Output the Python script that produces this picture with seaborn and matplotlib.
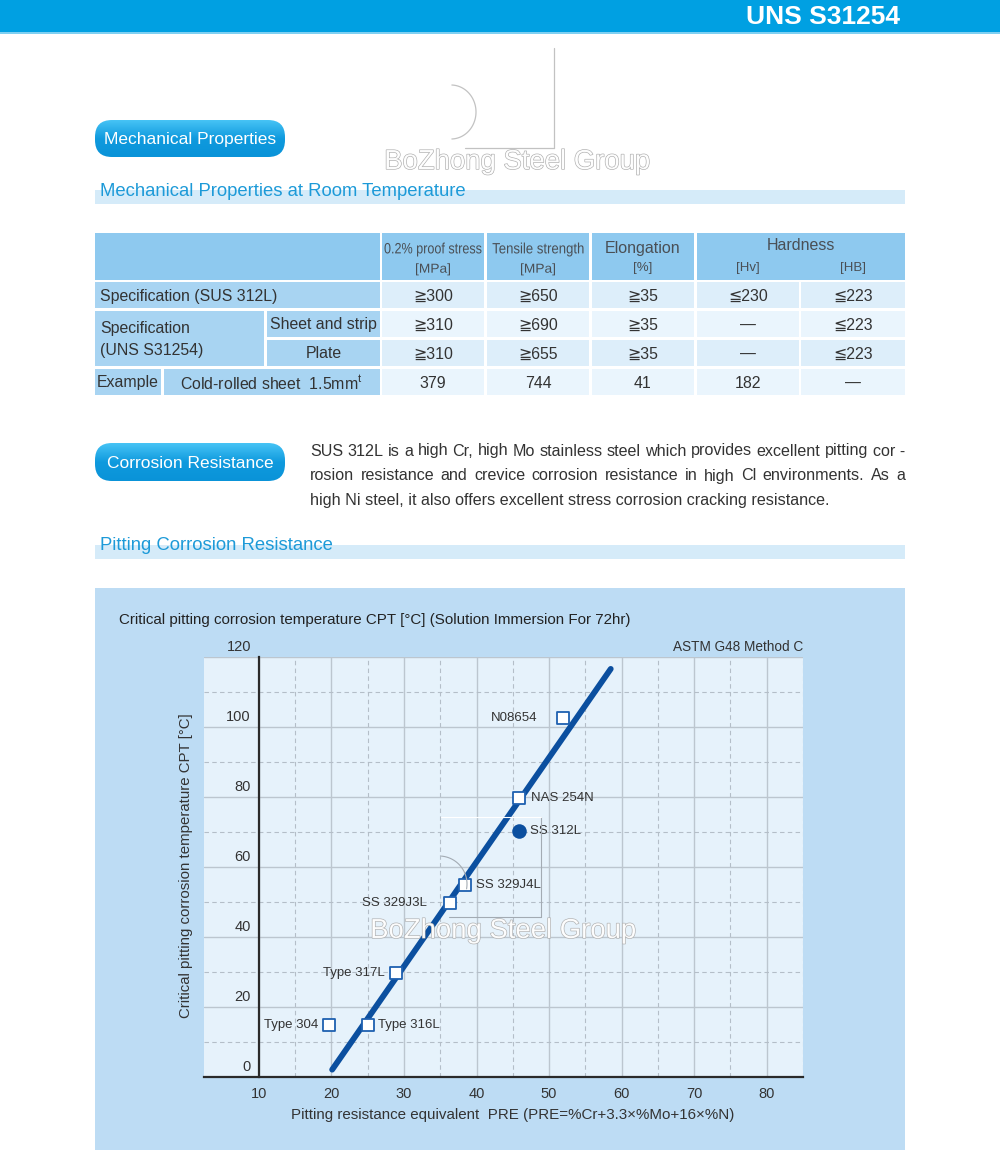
import numpy as np
import matplotlib
matplotlib.use('Agg')
import matplotlib.pyplot as plt
import matplotlib.patches as mpatches
import matplotlib.patheffects as pe
from matplotlib import font_manager as fm
from matplotlib.textpath import TextPath
from matplotlib.transforms import Affine2D
import seaborn as sns

# ---------------- data ----------------
page_title = 'UNS S31254'
table_heads = ['0.2% proof stress', 'Tensile strength', 'Elongation', 'Hardness']
table_units = ['[MPa]', '[MPa]', '[%]', '[Hv]', '[HB]']
row_sus312l = ['≧300', '≧650', '≧35', '≦230', '≦223']
row_sheet = ['≧310', '≧690', '≧35', '—', '≦223']
row_plate = ['≧310', '≧655', '≧35', '—', '≦223']
row_example = ['379', '744', '41', '182', '—']

para_lines = [
    'SUS 312L is a high Cr, high Mo stainless steel which provides excellent pitting cor -',
    'rosion resistance and crevice corrosion resistance in high Cl environments. As a',
    'high Ni steel, it also offers excellent stress corrosion cracking resistance.',
]

pre_line = [20.1, 58.5]
cpt_line = [2.1, 116.6]
steel_names = ['Type 304', 'Type 316L', 'Type 317L', 'SS 329J3L', 'SS 329J4L', 'NAS 254N', 'N08654']
steel_pre = [19.6, 25.0, 28.9, 36.4, 38.4, 45.8, 51.9]
steel_cpt = [14.8, 14.8, 29.8, 49.8, 54.8, 79.8, 102.7]
sus_name = 'SS 312L'
sus_pre = [45.8]
sus_cpt = [70.3]

x_ticks = [10, 20, 30, 40, 50, 60, 70, 80]
y_ticks = [0, 20, 40, 60, 80, 100, 120]

# ---------------- style ----------------
sns.set_style('white')
names = {f.name for f in fm.fontManager.ttflist}
base = 'Liberation Sans' if 'Liberation Sans' in names else 'DejaVu Sans'
plt.rcParams['font.family'] = [base, 'DejaVu Sans']
plt.rcParams['mathtext.fontset'] = 'custom'
plt.rcParams['mathtext.rm'] = base

TXT = '#333333'
BLUE = '#0b4f9f'

fig = plt.figure(figsize=(10, 11.5), dpi=100)
bg = fig.add_axes([0, 0, 1, 1], zorder=0)
bg.set_xlim(0, 1000)
bg.set_ylim(1150, 0)
bg.axis('off')


def box(x0, y0, x1, y1, color, ax=bg, z=1):
    ax.add_patch(mpatches.Rectangle((x0, y0), x1 - x0, y1 - y0, facecolor=color,
                                    edgecolor='none', zorder=z))


def narrow_text(cx, cy, s, size_px, width_px, color):
    # condensed header text: a text path squeezed horizontally
    tp = TextPath((0, 0), s, size=size_px, prop=fm.FontProperties(family=base))
    ext = tp.get_extents()
    sx = width_px / ext.width
    tr = (Affine2D().translate(-(ext.x0 + ext.width / 2), -size_px * 0.36)
          .scale(sx, -1).translate(cx, cy))
    bg.add_patch(mpatches.PathPatch(tr.transform_path(tp), facecolor=color,
                                    edgecolor='none', lw=0, zorder=3))


def pill(x0, y0, x1, y1, label):
    p = mpatches.FancyBboxPatch((x0, y0), x1 - x0, y1 - y0,
                                boxstyle='round,pad=0,rounding_size=17',
                                facecolor='none', edgecolor='none', zorder=2)
    bg.add_patch(p)
    grad = np.linspace(0, 1, 64).reshape(-1, 1)
    cmap = matplotlib.colors.LinearSegmentedColormap.from_list('pill', ['#46c3f5', '#0f9ade', '#0a93d8'])
    im = bg.imshow(grad, cmap=cmap, extent=[x0, x1, y1, y0], origin='upper',
                   aspect='auto', zorder=2)
    im.set_clip_path(p)
    bg.text((x0 + x1) / 2, (y0 + y1) / 2 + 1, label, color='white', fontsize=12.5,
            ha='center', va='center', zorder=3)


# header bar
box(0, 0, 1000, 32, '#00a0e2')
box(0, 32, 1000, 34, '#7fd0f2')
bg.text(823, 17, page_title, color='white', fontsize=19, fontweight='bold',
        ha='center', va='center', zorder=3)

# watermark logo (top)
wm_c = '#c2c2c2'
bg.plot([554, 554], [48, 148], color=wm_c, lw=0.9, zorder=2)
bg.plot([465, 554], [148, 148], color=wm_c, lw=0.9, zorder=2)
t = np.radians(np.linspace(-88, 88, 60))
bg.plot(451 + 25 * np.cos(t), 112 + 27 * np.sin(t), color=wm_c, lw=0.9, zorder=2)

pill(95, 120, 285, 157, 'Mechanical Properties')
pill(95, 443, 285, 481, 'Corrosion Resistance')

# section headings
for y, label in [(190, 'Mechanical Properties at Room Temperature'),
                 (545, 'Pitting Corrosion Resistance')]:
    box(95, y, 905, y + 14, '#d5ebf9')
    bg.text(100, y + 1, label, color='#1d9ad8', fontsize=13.3, ha='left',
            va='center', zorder=3)

# ---------------- table ----------------
HEAD = '#8ec9ef'
LAB = '#a8d4f2'
ROW_A = '#ddeefa'
ROW_B = '#eaf5fd'
HEAD_TXT = '#4a4f55'
col_x = [(382, 484), (487, 589), (592, 694), (697, 799), (801, 905)]
rows_y = [(282, 308), (311, 337), (340, 366), (369, 395)]

box(95, 233, 380, 280, HEAD)
for (x0, x1) in col_x[:3]:
    box(x0, 233, x1, 280, HEAD)
box(697, 233, 905, 280, HEAD)
narrow_text(sum(col_x[0]) / 2, 248, table_heads[0], 15, 97, HEAD_TXT)
narrow_text(sum(col_x[1]) / 2, 248, table_heads[1], 15, 91, HEAD_TXT)
bg.text(sum(col_x[2]) / 2, 248, table_heads[2], fontsize=11.5,
        color=HEAD_TXT, ha='center', va='center', zorder=3)
bg.text(801, 246, table_heads[3], fontsize=11.5, color=HEAD_TXT, ha='center',
        va='center', zorder=3)
for i, unit in enumerate(table_units):
    if unit == '[MPa]':
        narrow_text(sum(col_x[i]) / 2, 268, unit, 13, 34, HEAD_TXT)
    else:
        bg.text(sum(col_x[i]) / 2, 268, unit, fontsize=9.5,
                color=HEAD_TXT, ha='center', va='center', zorder=3)

# label cells
box(95, 282, 380, 308, LAB)
box(95, 311, 264, 366, LAB)
box(267, 311, 380, 337, LAB)
box(267, 340, 380, 366, LAB)
box(95, 369, 161, 395, LAB)
box(164, 369, 380, 395, LAB)
lab_kw = dict(fontsize=11.4, color=TXT, va='center', zorder=3)
bg.text(100, 296, 'Specification (SUS 312L)', ha='left', **lab_kw)
bg.text(100, 328, 'Specification', ha='left', **lab_kw)
bg.text(100, 350, '(UNS S31254)', ha='left', **lab_kw)
bg.text(323.5, 325, 'Sheet and strip', ha='center', **lab_kw)
bg.text(323.5, 353, 'Plate', ha='center', **lab_kw)
bg.text(128, 383, 'Example', ha='center', **lab_kw)
bg.text(271, 383, r'Cold-rolled sheet  1.5mm$^{\mathrm{t}}$', ha='center', **lab_kw)

for r, (vals, shade) in enumerate(zip([row_sus312l, row_sheet, row_plate, row_example],
                                      [ROW_A, ROW_B, ROW_A, ROW_B])):
    y0, y1 = rows_y[r]
    for c, v in enumerate(vals):
        x0, x1 = col_x[c]
        box(x0, y0, x1, y1, shade)
        bg.text((x0 + x1) / 2, (y0 + y1) / 2 + 1, v, fontsize=11.4, color=TXT,
                ha='center', va='center', zorder=3)

# ---------------- paragraph (justified) ----------------
renderer = fig.canvas.get_renderer()
para_kw = dict(fontsize=11.6, color=TXT, va='center', ha='left', zorder=3)
for k, line in enumerate(para_lines):
    y = 451 + 25 * k
    if k == len(para_lines) - 1:
        bg.text(310, y, line, **para_kw)
        continue
    words = line.split(' ')
    if words[-1] == '-':
        words = words[:-2] + [words[-2] + ' -']
    widths = []
    for w in words:
        tt = bg.text(0, 0, w, **para_kw)
        widths.append(tt.get_window_extent(renderer).width)
        tt.remove()
    gap = (905 - 310 - sum(widths)) / (len(words) - 1)
    x = 310
    for w, wd in zip(words, widths):
        bg.text(x, y, w, **para_kw)
        x += wd + gap

# ---------------- chart ----------------
box(95, 588, 905, 1150, '#bddcf4')
bg.text(119, 620, 'Critical pitting corrosion temperature CPT [°C] (Solution Immersion For 72hr)',
        fontsize=10.9, color='#222222', ha='left', va='center', zorder=3)

ax = fig.add_axes([204 / 1000, (1150 - 1077) / 1150, 599 / 1000, 420 / 1150], zorder=2)
ax.set_facecolor('#e6f2fb')
ax.set_xlim(10 - 55 / 7.271, 10 + 544 / 7.271)
ax.set_ylim(0, 120)
ax.set_axisbelow(True)
ax.set_xticks(x_ticks)
ax.set_xticks([v + 5 for v in x_ticks], minor=True)
ax.set_yticks(y_ticks)
ax.set_yticks([v + 10 for v in y_ticks[:-1]], minor=True)
ax.grid(which='major', color='#bcc6cf', lw=1.0, ls='-')
ax.grid(which='minor', color='#b4bec8', lw=0.8, ls=(0, (4, 3)))
ax.tick_params(which='both', length=0)
ax.tick_params(axis='x', pad=7, labelsize=10.5, colors=TXT)
ax.set_yticklabels([])
for v in y_ticks:
    ax.text(8.9, v + 0.9, str(v), fontsize=10.5, color=TXT, ha='right', va='bottom')

for s in ['top', 'right']:
    ax.spines[s].set_visible(False)
ax.spines['left'].set_position(('data', 10))
for s in ['left', 'bottom']:
    ax.spines[s].set_color('#2a2a2a')
    ax.spines[s].set_linewidth(1.6)

sns.lineplot(x=pre_line, y=cpt_line, ax=ax, color=BLUE, lw=4.2, zorder=3)
sns.scatterplot(x=steel_pre, y=steel_cpt, ax=ax, marker='s', s=78, color='white',
                edgecolor='#1e60b0', linewidth=1.3, zorder=4)
sns.scatterplot(x=sus_pre, y=sus_cpt, ax=ax, marker='o', s=110, color=BLUE,
                edgecolor=BLUE, linewidth=0, zorder=4)

label_dx = [-10, 10, -11, -24, 11, 12, -25]
for name, x, y, dx in zip(steel_names, steel_pre, steel_cpt, label_dx):
    ax.annotate(name, (x, y), xytext=(dx, 0), textcoords='offset pixels',
                ha='right' if dx < 0 else 'left', va='center', fontsize=9.5,
                color=TXT, zorder=5)
ax.annotate(sus_name, (sus_pre[0], sus_cpt[0]), xytext=(11, 0), textcoords='offset pixels',
            ha='left', va='center', fontsize=9.5, color=TXT, zorder=5)

ax.text(1.0, 1.0 + 3 / 420, 'ASTM G48 Method C', transform=ax.transAxes,
        fontsize=9.8, color=TXT, ha='right', va='bottom')
ax.set_xlabel('Pitting resistance equivalent  PRE (PRE=%Cr+3.3×%Mo+16×%N)',
              fontsize=10.9, color=TXT)
ax.xaxis.set_label_coords((513 - 204) / 599, (1077 - 1108) / 420)
ax.set_ylabel('Critical pitting corrosion temperature CPT [°C]', fontsize=10.8, color=TXT)
ax.yaxis.set_label_coords((193 - 204) / 599, (1077 - 866) / 420)

# ---------------- watermark overlay ----------------
ov = fig.add_axes([0, 0, 1, 1], zorder=6)
ov.set_xlim(0, 1000)
ov.set_ylim(1150, 0)
ov.axis('off')
ov.patch.set_alpha(0)
wm_fx = [pe.Stroke(linewidth=0.9, foreground='#a8a8a8'), pe.Normal()]
ov.text(517, 162, 'BoZhong Steel Group', fontsize=19.8, color='white', ha='center',
        va='center', path_effects=wm_fx, alpha=0.95)
ov.text(503, 931, 'BoZhong Steel Group', fontsize=19.8, color='white', ha='center',
        va='center', path_effects=wm_fx, alpha=0.9)
ov.plot([541, 541], [817, 917], color='#a3abb3', lw=0.8)
ov.plot([449, 541], [917, 917], color='#a3abb3', lw=0.8)
ov.plot([441, 541], [817, 817], color='white', lw=0.8)
t = np.radians(np.linspace(-85, 10, 40))
ov.plot(439 + 28 * np.cos(t), 884 + 28 * np.sin(t), color='#a3abb3', lw=0.8)

fig.savefig('out.png', dpi=100)
